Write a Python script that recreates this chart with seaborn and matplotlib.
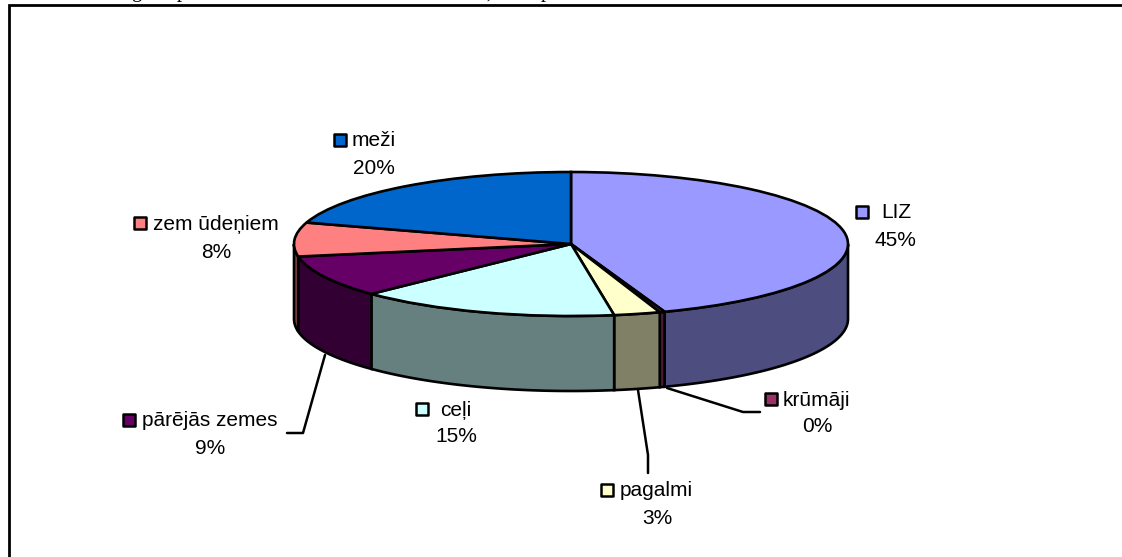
import numpy as np
import matplotlib
matplotlib.use("Agg")
import matplotlib.pyplot as plt
import seaborn as sns

# share of the area per land type, percent
names = ["LIZ", "krūmāji", "pagalmi", "ceļi", "pārējās zemes", "zem ūdeņiem", "meži"]
values = [44.51, 0.3, 2.7, 15.3, 9.4, 7.6, 20.19]
colors = ["#9999FF", "#993366", "#FFFFCC", "#CCFFFF", "#660066", "#FF8080", "#0066CC"]

# label anchors in pixels: swatch left, name left, first line y, percent centre, second line y
swatch_x = [855, 764, 600, 415, 122, 133, 333]
name_x = [881, 783, 620, 440, 142, 153, 352]
name_y = [212, 399, 490, 409, 420, 223, 140]
pct_x = [895, 817, 657, 456, 210, 216, 374]
pct_y = [239, 425, 517, 436, 447, 251, 167]

# leader lines, pixels
leaders = [
    ([667, 743, 760], [388, 412, 412]),
    ([638, 648, 648], [390, 455, 473]),
    ([325, 303, 287], [355, 433, 433]),
]

# bits of the cropped text line above the chart
cut_text = [("g", 131), ("p", 177), (")", 486), ("p", 541)]

W, H = 1122, 557
cx, cy, rx, ry, depth = 571, 244, 277, 72, 75

sns.set_theme(style="white")
plt.rcParams["font.family"] = ["Liberation Sans", "DejaVu Sans"]

fig = plt.figure(figsize=(W / 100, H / 100), dpi=100, facecolor="white")

# pie axes in units of the pie radius, squashed so the circle turns into the ellipse
ax = fig.add_axes([0, 0, 1, 1])
wedges, _ = ax.pie(values, colors=sns.color_palette(colors), startangle=90, counterclock=False,
                   wedgeprops={"edgecolor": "black", "linewidth": 1.9, "zorder": 3})
ax.set_aspect("auto")
ax.set_xlim(-cx / rx, (W - cx) / rx)
ax.set_ylim((cy - H) / ry, cy / ry)
ax.set_axis_off()

# side wall, only the front half of the ellipse shows
d = depth / ry
for w, c in zip(wedges, colors):
    t1, t2 = max(w.theta1, -180), min(w.theta2, 0)
    if t2 <= t1:
        continue
    t = np.radians(np.linspace(t1, t2, 80))
    xs = np.r_[np.cos(t), np.cos(t[::-1])]
    ys = np.r_[np.sin(t), np.sin(t[::-1]) - d]
    dark = np.array(sns.color_palette([c])[0]) * 0.5
    ax.fill(xs, ys, facecolor=dark, edgecolor="black", linewidth=1.9, zorder=2)

# overlay in pixel coordinates
ov = fig.add_axes([0, 0, 1, 1], facecolor="none")
ov.set_xlim(0, W)
ov.set_ylim(H, 0)
ov.set_axis_off()

ov.plot([9, 9, W], [H, 5, 5], color="black", lw=2, solid_joinstyle="miter", clip_on=False)

for xs, ys in leaders:
    ov.plot(xs, ys, color="black", lw=1.8)

total = sum(values)
for i, n in enumerate(names):
    ov.scatter(swatch_x[i] + 7, name_y[i], marker="s", s=85, facecolor=colors[i],
               edgecolor="black", linewidth=1.8, zorder=4)
    ov.text(name_x[i], name_y[i] + 1, n, fontsize=15, ha="left", va="center", color="black")
    ov.text(pct_x[i], pct_y[i] + 1, "%.0f%%" % (values[i] / total * 100), fontsize=15,
            ha="center", va="center", color="black")

for s, x in cut_text:
    ov.text(x, -3, s, fontsize=15, family="Liberation Serif", ha="left", va="baseline", color="black")

fig.savefig("out.png", dpi=100)
